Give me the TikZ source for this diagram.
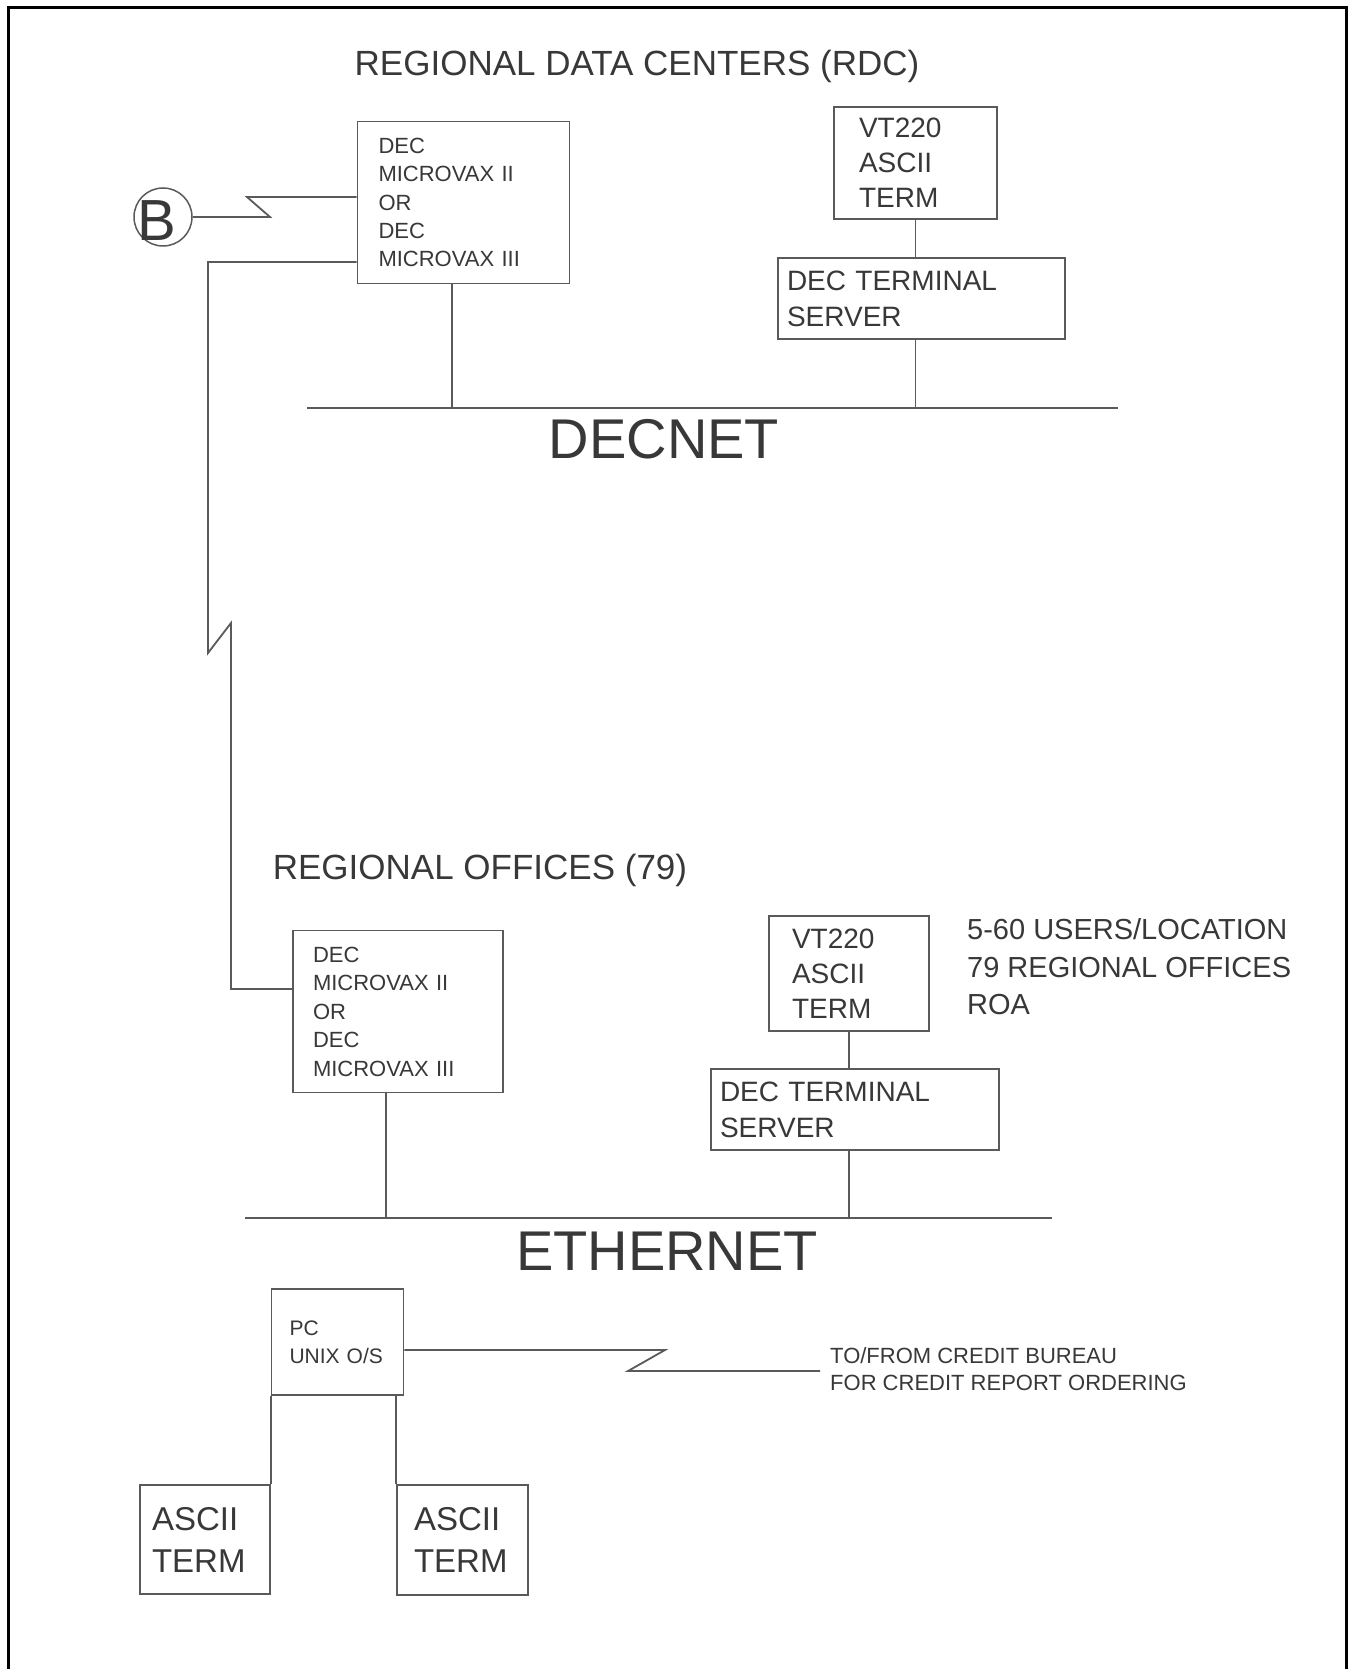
\documentclass[tikz,border=0pt]{standalone}
\usepackage{fontspec}
\setmainfont{Liberation Sans}
\definecolor{lc}{HTML}{5A5A5A}
\definecolor{tc}{HTML}{383838}
\newcommand\fsz[2]{\fontsize{#1}{#2}\selectfont}
\begin{document}
\begin{tikzpicture}[x=1pt,y=-1pt,
  ln/.style={draw=lc, line width=1.8pt},
  box/.style={draw=lc, line width=1.8pt, align=left, inner ysep=0pt, text=tc},
  txt/.style={inner sep=0pt, text=tc}]
\useasboundingbox (0,0) rectangle (1351,1669);
\fill[white] (0,0) rectangle (1351,1669);
\draw[line width=3pt, black] (8,1669) -- (8,8) -- (1346,8) -- (1346,1669);

% titles
\node[txt, font=\fsz{35}{42}] (rdc) at (637,66) {REGIONAL DATA CENTERS (RDC)};
\node[txt, font=\fsz{35}{42}] (ro) at (480,870) {REGIONAL OFFICES (79)};
\node[txt, font=\fsz{56}{60}] (decnet) at (664,439) {DECNET};
\node[txt, font=\fsz{56}{60}] (eth) at (667,1251) {ETHERNET};

% top boxes
\node[box, minimum width=212, minimum height=162, text width=170, inner xsep=21, font=\fsz{22}{28.3}] (dec1) at (463.5,202.5) {DEC\\MICROVAX II\\OR\\DEC\\MICROVAX III};
\node[box, minimum width=163, minimum height=112, text width=113, inner xsep=25, font=\fsz{28}{35}] (vt1) at (915.5,163) {VT220\\ASCII\\TERM};
\node[box, minimum width=287, minimum height=81, text width=269, inner xsep=9, font=\fsz{28}{36}] (srv1) at (921.5,298.5) {DEC TERMINAL\\SERVER};

% lower boxes
\node[box, minimum width=210, minimum height=162, text width=170, inner xsep=20, font=\fsz{22}{28.5}] (dec2) at (398,1011.5) {DEC\\MICROVAX II\\OR\\DEC\\MICROVAX III};
\node[box, minimum width=160, minimum height=115, text width=114, inner xsep=23, font=\fsz{28}{35}] (vt2) at (849,973.5) {VT220\\ASCII\\TERM};
\node[box, minimum width=288, minimum height=81, text width=270, inner xsep=9, font=\fsz{28}{36}] (srv2) at (855,1109.5) {DEC TERMINAL\\SERVER};
\node[txt, anchor=west, align=left, font=\fsz{29}{37.5}] (notes) at (967,967) {5-60 USERS/LOCATION\\79 REGIONAL OFFICES\\ROA};

% PC and terminals
\node[box, minimum width=132, minimum height=106, text width=96, inner xsep=18, font=\fsz{21}{28}] (pc) at (337.5,1342) {PC\\UNIX O/S};
\node[box, minimum width=130, minimum height=109, text width=106, inner xsep=12, font=\fsz{33}{42}] (t1) at (205,1539.5) {ASCII\\TERM};
\node[box, minimum width=131, minimum height=110, text width=97, inner xsep=17, font=\fsz{33}{42}] (t2) at (462.5,1540) {ASCII\\TERM};
\node[txt, anchor=west, align=left, font=\fsz{22}{27}] (credit) at (830,1369) {TO/FROM CREDIT BUREAU\\FOR CREDIT REPORT ORDERING};

% B connector
\node[draw=lc, line width=1.5pt, circle, minimum size=58, inner sep=0pt] (B) at (163,217) {};
\node[txt, font=\fsz{58}{60}] (Bt) at (157,221) {B};
\coordinate (b1) at (270,217);
\coordinate (b2) at (247,197);
\draw[ln] (B.east) -- (b1) -- (b2) -- (b2 -| dec1.west);

% link between the two MicroVAX boxes
\coordinate (c1) at (208,262);
\coordinate (c2) at (208,653);
\coordinate (c3) at (231,623);
\coordinate (c4) at (231,989);
\draw[ln] (c1 -| dec1.west) -- (c1) -- (c2) -- (c3) -- (c4) -- (c4 -| dec2.west);

% DECNET
\coordinate (dn1) at (307,408);
\coordinate (dn2) at (1118,408);
\draw[ln] (dn1) -- (dn2);
\coordinate (d1x) at (452,0);
\draw[ln] (d1x |- dec1.south) -- (d1x |- dn1);
\draw[ln] (vt1.south) -- (vt1.south |- srv1.north);
\draw[ln] (vt1.south |- srv1.south) -- (vt1.south |- dn1);

% ETHERNET
\coordinate (en1) at (245,1218);
\coordinate (en2) at (1052,1218);
\draw[ln] (en1) -- (en2);
\coordinate (d2x) at (386,0);
\draw[ln] (d2x |- dec2.south) -- (d2x |- en1);
\draw[ln] (vt2.south) -- (vt2.south |- srv2.north);
\draw[ln] (vt2.south |- srv2.south) -- (vt2.south |- en1);

% PC links
\coordinate (p1) at (665,1350);
\coordinate (p2) at (628,1371);
\coordinate (p3) at (820,1371);
\draw[ln] (p1 -| pc.east) -- (p1) -- (p2) -- (p3);
\draw[ln] (t1.north east) -- (t1.north east |- pc.south);
\draw[ln] (t2.north west) -- (t2.north west |- pc.south);
\end{tikzpicture}
\end{document}
